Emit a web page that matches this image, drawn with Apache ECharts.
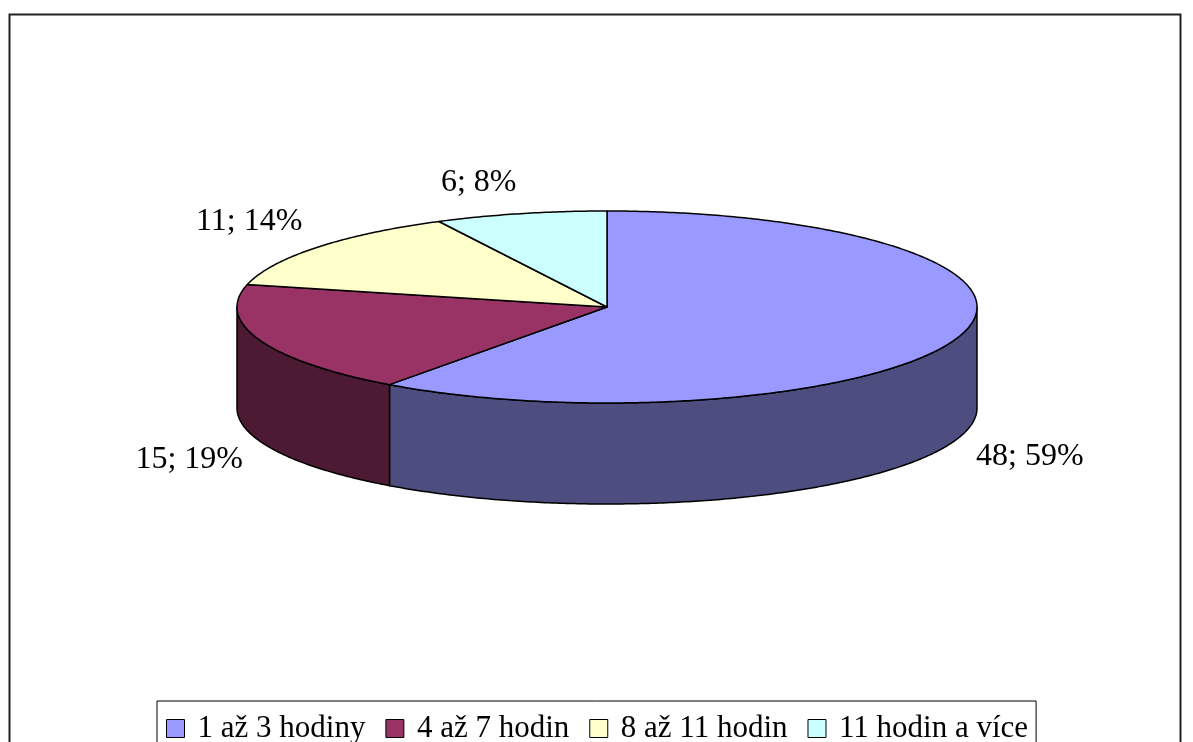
<!DOCTYPE html>
<html>
<head>
<meta charset="utf-8">
<script src="https://cdn.jsdelivr.net/npm/echarts@6/dist/echarts.min.js"></script>
<style>
  html, body { margin: 0; padding: 0; background: #fff; }
  #chart { width: 1193px; height: 742px; }
</style>
</head>
<body>
<div id="chart"></div>
<script>
  // data
  const categories = ['1 až 3 hodiny', '4 až 7 hodin', '8 až 11 hodin', '11 hodin a více']
  const counts = [48, 15, 11, 6]
  const percentLabels = ['59%', '19%', '14%', '8%']
  const topColors = ['#9999FF', '#993366', '#FFFFCC', '#CCFFFF']
  const sideColors = ['#4D4D80', '#4D1A33', '#80806A', '#6A8080']

  // pie geometry (3D look: tilted ellipse + wall)
  const cx = 607, cy = 307, rx = 370, ry = 96, depth = 101
  const total = counts.reduce((a, b) => a + b, 0)

  function pt(a, dy) {
    return [cx + rx * Math.cos(a), cy + ry * Math.sin(a) + (dy || 0)]
  }

  function arc(a0, a1, dy) {
    const n = Math.max(2, Math.ceil(Math.abs(a1 - a0) / 0.01))
    const out = []
    for (let i = 0; i <= n; i++) {
      out.push(pt(a0 + (a1 - a0) * i / n, dy))
    }
    return out
  }

  function renderSlice(params, api) {
    const idx = params.seriesIndex
    let cum = 0
    for (let i = 0; i < idx; i++) cum += counts[i]
    const a0 = -Math.PI / 2 + 2 * Math.PI * cum / total
    const a1 = -Math.PI / 2 + 2 * Math.PI * (cum + counts[idx]) / total
    const children = []

    // front wall, only the part facing the viewer (0..PI, or 2PI..3PI)
    ;[[0, Math.PI], [2 * Math.PI, 3 * Math.PI]].forEach(function (r) {
      const s = Math.max(a0, r[0]), e = Math.min(a1, r[1])
      if (e > s) {
        const top = arc(s, e, 0)
        const bottom = arc(e, s, depth)
        children.push({
          type: 'polygon',
          shape: { points: top.concat(bottom) },
          style: { fill: sideColors[idx], stroke: '#000', lineWidth: 1.5, lineJoin: 'round' }
        })
      }
    })

    // top face
    children.push({
      type: 'polygon',
      shape: { points: [[cx, cy]].concat(arc(a0, a1, 0)) },
      style: { fill: topColors[idx], stroke: '#000', lineWidth: 1.5, lineJoin: 'round' }
    })

    // label outside the slice
    const am = (a0 + a1) / 2
    const c = Math.cos(am), s = Math.sin(am)
    const front = s > 0
    const lx = cx + (rx + 18) * c
    const ly = cy + (ry + (front ? 8 : 16)) * s + (front ? depth : 0)
    children.push({
      type: 'text',
      style: {
        text: counts[idx] + '; ' + percentLabels[idx],
        x: lx,
        y: ly,
        align: c >= 0 ? 'left' : 'right',
        verticalAlign: front ? 'top' : 'bottom',
        fill: '#000',
        font: '32px "Liberation Serif", "Times New Roman", serif'
      }
    })

    return { type: 'group', children: children }
  }

  const chart = echarts.init(document.getElementById('chart'))

  chart.setOption({
    animation: false,
    backgroundColor: '#fff',
    graphic: [{
      type: 'rect',
      shape: { x: 9.5, y: 14.5, width: 1171, height: 800 },
      style: { fill: 'none', stroke: '#222', lineWidth: 2 },
      silent: true
    }],
    legend: {
      left: 157,
      top: 701,
      orient: 'horizontal',
      padding: [12, 8, 30, 9],
      borderColor: '#000',
      borderWidth: 1,
      itemGap: 20,
      itemWidth: 18,
      itemHeight: 18,
      icon: 'rect',
      itemStyle: { borderColor: '#000', borderWidth: 1 },
      textStyle: {
        fontFamily: 'Liberation Serif',
        fontSize: 31,
        color: '#000',
        padding: [0, 0, 0, 8]
      },
      data: categories
    },
    series: categories.map(function (name, i) {
      return {
        type: 'custom',
        name: name,
        coordinateSystem: 'none',
        itemStyle: { color: topColors[i] },
        renderItem: renderSlice,
        data: [counts[i]]
      }
    })
  })
</script>
</body>
</html>
